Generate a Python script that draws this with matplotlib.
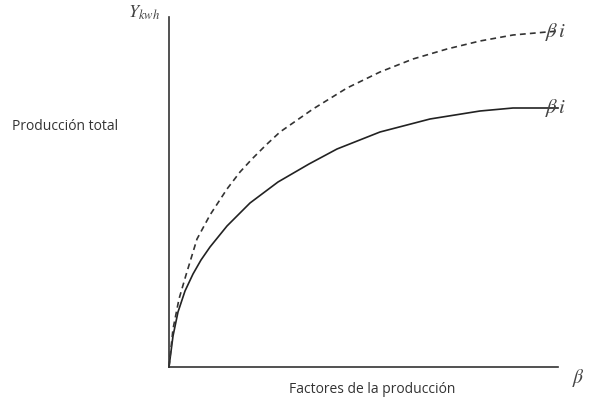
import matplotlib
matplotlib.use("Agg")
import matplotlib.pyplot as plt

plt.rcParams['mathtext.fontset'] = 'stix'

# curve points (x = factor input, y = output)
solid_x = [0, 4, 9, 16, 24, 32, 41, 58, 81, 109, 140, 168, 211, 261, 311, 344, 389]
solid_y = [0, 31, 55, 76, 93, 107, 120, 141, 164, 185, 203, 218, 235, 248, 256, 259, 259]
dash_x = [0, 4, 10, 17, 28, 41, 58, 71, 83, 97, 111, 144, 178, 211, 244, 278, 311, 344, 389]
dash_y = [0, 38, 68, 92, 128, 152, 178, 195, 208, 222, 235, 258, 279, 295, 308, 318, 326, 332, 336]

fig = plt.figure(figsize=(5.95, 4.06), dpi=100)
ax = fig.add_axes([0, 0, 1, 1])
ax.set_xlim(-169, 426)
ax.set_ylim(-38, 368)
ax.set_xticks([])
ax.set_yticks([])
for s in ['top', 'right']:
    ax.spines[s].set_visible(False)
ax.spines['left'].set_position(('data', 0))
ax.spines['bottom'].set_position(('data', 0))
ax.spines['left'].set_bounds(0, 350)
ax.spines['bottom'].set_bounds(0, 389)
for s in ['left', 'bottom']:
    ax.spines[s].set_color('#333333')
    ax.spines[s].set_linewidth(1.2)

ax.plot(solid_x, solid_y, color='#222222', lw=1.2)
ax.plot(dash_x, dash_y, color='#333333', lw=1.2, ls=(0, (3.5, 2.5)))

ax.text(-9, 355, r'$Y_{kwh}$', ha='right', va='center', fontsize=13, color='#444444')
ax.text(-157, 241, 'Producción total', ha='left', va='center', fontsize=10,
        family='Open Sans', color='#333333')
ax.text(203, -22, 'Factores de la producción', ha='center', va='center', fontsize=10,
        family='Open Sans', color='#333333')
ax.text(403, -10, r'$\beta$', ha='left', va='center', fontsize=14, color='#444444')
ax.text(376, 336, r'$\beta\, i$', ha='left', va='center', fontsize=15, color='#444444')
ax.text(376, 260, r'$\beta\, i$', ha='left', va='center', fontsize=15, color='#444444')

fig.savefig('out.png', dpi=100)
